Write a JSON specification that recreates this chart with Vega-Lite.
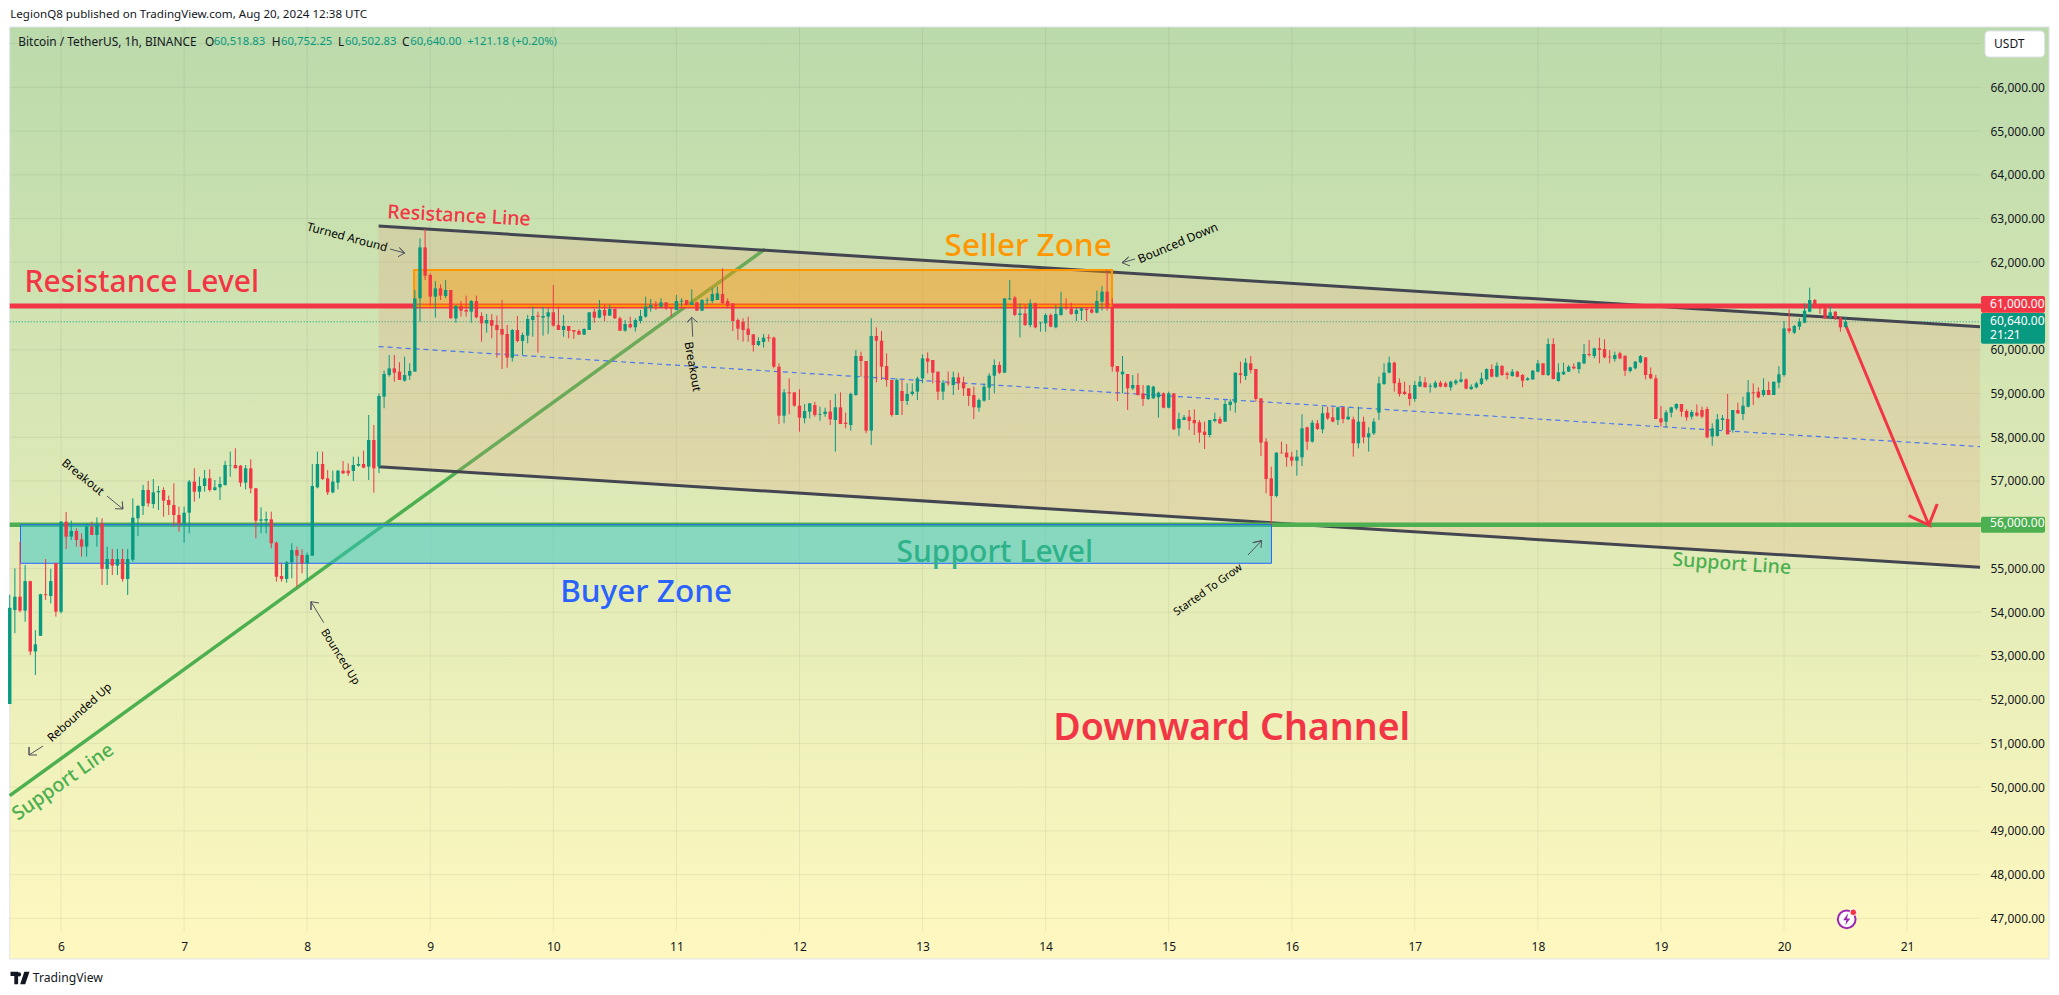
{
  "$schema": "https://vega.github.io/schema/vega-lite/v6.json",
  "width": 2059,
  "height": 995,
  "padding": 0,
  "autosize": {"type": "none"},
  "background": "#ffffff",
  "config": {"view": {"stroke": null}, "text": {"font": "Noto Sans"}},
  "datasets": {
    "candles": [
      {"t":134,"o":51900,"h":54400,"l":51900,"c":54100},{"t":135,"o":54050,"h":55000,"l":53520,"c":54355},{"t":136,"o":54355,"h":55610,"l":54000,"c":54035},{"t":137,"o":54035,"h":55080,"l":53780,"c":54710},{"t":138,"o":54710,"h":54720,"l":53020,"c":53100},{"t":139,"o":53100,"h":53590,"l":52565,"c":53265},{"t":140,"o":53460,"h":54420,"l":53460,"c":54410},{"t":141,"o":54410,"h":55215,"l":54280,"c":54390},{"t":142,"o":54370,"h":54990,"l":54200,"c":54710},{"t":143,"o":55120,"h":55130,"l":53900,"c":54012},
      {"t":144,"o":54012,"h":56080,"l":53974,"c":56070},{"t":145,"o":56070,"h":56291,"l":55445,"c":55727},{"t":146,"o":55730,"h":56093,"l":55651,"c":55856},{"t":147,"o":55856,"h":55917,"l":55498,"c":55650},{"t":148,"o":55665,"h":55803,"l":55270,"c":55500},{"t":149,"o":55500,"h":56032,"l":55270,"c":55955},{"t":150,"o":55955,"h":56070,"l":55765,"c":55765},{"t":151,"o":55765,"h":56169,"l":55498,"c":55990},{"t":152,"o":56030,"h":56146,"l":54622,"c":54990},{"t":153,"o":54990,"h":55498,"l":54622,"c":55216},
      {"t":154,"o":55216,"h":55445,"l":54850,"c":55065},{"t":155,"o":55065,"h":55445,"l":54850,"c":55216},{"t":156,"o":55216,"h":55445,"l":54698,"c":54760},{"t":157,"o":54760,"h":55445,"l":54393,"c":55216},{"t":158,"o":55200,"h":56603,"l":55155,"c":56160},{"t":159,"o":56146,"h":56451,"l":55742,"c":56428},{"t":160,"o":56428,"h":56908,"l":56222,"c":56794},{"t":161,"o":56794,"h":57000,"l":56413,"c":56488},{"t":162,"o":56474,"h":57045,"l":56375,"c":56740},{"t":163,"o":56740,"h":56885,"l":56336,"c":56771},
      {"t":164,"o":56794,"h":56855,"l":56184,"c":56550},{"t":165,"o":56565,"h":56664,"l":56222,"c":56450},{"t":166,"o":56450,"h":56946,"l":55955,"c":56222},{"t":167,"o":56222,"h":56413,"l":55841,"c":56030},{"t":168,"o":56030,"h":56413,"l":55590,"c":56275},{"t":169,"o":56275,"h":57022,"l":55803,"c":56985},{"t":170,"o":56985,"h":57289,"l":56527,"c":56755},{"t":171,"o":56755,"h":57098,"l":56603,"c":56885},{"t":172,"o":56885,"h":57251,"l":56755,"c":57060},{"t":173,"o":57060,"h":57266,"l":56755,"c":56794},
      {"t":174,"o":56794,"h":57022,"l":56778,"c":56855},{"t":175,"o":56855,"h":57098,"l":56565,"c":56930},{"t":176,"o":56908,"h":57457,"l":56893,"c":57365},{"t":177,"o":57355,"h":57670,"l":57098,"c":57365},{"t":178,"o":57365,"h":57746,"l":57289,"c":57290},{"t":179,"o":57350,"h":57365,"l":56870,"c":56962},{"t":180,"o":56962,"h":57365,"l":56809,"c":57290},{"t":181,"o":57290,"h":57495,"l":56717,"c":56832},{"t":182,"o":56832,"h":56832,"l":55689,"c":56093},{"t":183,"o":56093,"h":56397,"l":55803,"c":56123},
      {"t":184,"o":56093,"h":56298,"l":55803,"c":56130},{"t":185,"o":56123,"h":56298,"l":55460,"c":55575},{"t":186,"o":55590,"h":55613,"l":54698,"c":54812},{"t":187,"o":54827,"h":55132,"l":54698,"c":54760},{"t":188,"o":54760,"h":55170,"l":54675,"c":55140},{"t":189,"o":55140,"h":55575,"l":54774,"c":55420},{"t":190,"o":55420,"h":55498,"l":54584,"c":55292},{"t":191,"o":55308,"h":55437,"l":54889,"c":55117},{"t":192,"o":55117,"h":55361,"l":54736,"c":55308},{"t":193,"o":55292,"h":57388,"l":55292,"c":56885},
      {"t":194,"o":56855,"h":57670,"l":56832,"c":57388},{"t":195,"o":57388,"h":57670,"l":57022,"c":57045},{"t":196,"o":57060,"h":57251,"l":56679,"c":56740},{"t":197,"o":56740,"h":57235,"l":56717,"c":56985},{"t":198,"o":56962,"h":57251,"l":56809,"c":57235},{"t":199,"o":57235,"h":57457,"l":57159,"c":57175},{"t":200,"o":57235,"h":57403,"l":57114,"c":57175},{"t":201,"o":57228,"h":57556,"l":57000,"c":57365},{"t":202,"o":57350,"h":57556,"l":57327,"c":57388},{"t":203,"o":57388,"h":57693,"l":57289,"c":57304},
      {"t":204,"o":57327,"h":58508,"l":57022,"c":57937},{"t":205,"o":57937,"h":58280,"l":56733,"c":57289},{"t":206,"o":57330,"h":59000,"l":57180,"c":58943},{"t":207,"o":58928,"h":59522,"l":58661,"c":59446},{"t":208,"o":59423,"h":59880,"l":59385,"c":59575},{"t":209,"o":59575,"h":59880,"l":59271,"c":59476},{"t":210,"o":59500,"h":59713,"l":59309,"c":59309},{"t":211,"o":59293,"h":59842,"l":59271,"c":59423},{"t":212,"o":59408,"h":59690,"l":59309,"c":59515},{"t":213,"o":59500,"h":61366,"l":59500,"c":61176},
      {"t":214,"o":61176,"h":62547,"l":60642,"c":62341},{"t":215,"o":62341,"h":62760,"l":61595,"c":61694},{"t":216,"o":61709,"h":61747,"l":61000,"c":61214},{"t":217,"o":61214,"h":61572,"l":60734,"c":61404},{"t":218,"o":61404,"h":61496,"l":61137,"c":61237},{"t":219,"o":61229,"h":61595,"l":61176,"c":61366},{"t":220,"o":61366,"h":61366,"l":60718,"c":60718},{"t":221,"o":60718,"h":61023,"l":60619,"c":61000},{"t":222,"o":61000,"h":61115,"l":60757,"c":60894},{"t":223,"o":60909,"h":61237,"l":60757,"c":60871},
      {"t":224,"o":60871,"h":61137,"l":60619,"c":61115},{"t":225,"o":61115,"h":61237,"l":60718,"c":60741},{"t":226,"o":60772,"h":60856,"l":60185,"c":60604},{"t":227,"o":60604,"h":60817,"l":60391,"c":60680},{"t":228,"o":60680,"h":60817,"l":60261,"c":60551},{"t":229,"o":60566,"h":60779,"l":59819,"c":60452},{"t":230,"o":60475,"h":61137,"l":59560,"c":60345},{"t":231,"o":60360,"h":60566,"l":59591,"c":59819},{"t":232,"o":59819,"h":60475,"l":59728,"c":60452},{"t":233,"o":60452,"h":60772,"l":60170,"c":60200},
      {"t":234,"o":60200,"h":60391,"l":59880,"c":60337},{"t":235,"o":60322,"h":60795,"l":60147,"c":60703},{"t":236,"o":60680,"h":60985,"l":60299,"c":60772},{"t":237,"o":60780,"h":60871,"l":59934,"c":60757},{"t":238,"o":60734,"h":60985,"l":60322,"c":60772},{"t":239,"o":60757,"h":60947,"l":60360,"c":60856},{"t":240,"o":60856,"h":61480,"l":60528,"c":60551},{"t":241,"o":60566,"h":60985,"l":60452,"c":60452},{"t":242,"o":60452,"h":60795,"l":60299,"c":60543},{"t":243,"o":60543,"h":60543,"l":60261,"c":60429},
      {"t":244,"o":60452,"h":60452,"l":60246,"c":60414},{"t":245,"o":60429,"h":60467,"l":60337,"c":60345},{"t":246,"o":60345,"h":60490,"l":60337,"c":60475},{"t":247,"o":60452,"h":60856,"l":60452,"c":60856},{"t":248,"o":60871,"h":60932,"l":60619,"c":60734},{"t":249,"o":60734,"h":61137,"l":60718,"c":60909},{"t":250,"o":60909,"h":61023,"l":60657,"c":60780},{"t":251,"o":60780,"h":61023,"l":60772,"c":60932},{"t":252,"o":60932,"h":60947,"l":60703,"c":60718},{"t":253,"o":60718,"h":60757,"l":60429,"c":60436},
      {"t":254,"o":60436,"h":60680,"l":60414,"c":60589},{"t":255,"o":60589,"h":60757,"l":60490,"c":60513},{"t":256,"o":60513,"h":60718,"l":60414,"c":60680},{"t":257,"o":60657,"h":60909,"l":60604,"c":60772},{"t":258,"o":60757,"h":61214,"l":60734,"c":60985},{"t":259,"o":60963,"h":61160,"l":60871,"c":61023},{"t":260,"o":61023,"h":61115,"l":60909,"c":61000},{"t":261,"o":60985,"h":61176,"l":60962,"c":61084},{"t":262,"o":61084,"h":61084,"l":60909,"c":60947},{"t":263,"o":60947,"h":60947,"l":60757,"c":60932},
      {"t":264,"o":60909,"h":61252,"l":60909,"c":61115},{"t":265,"o":61100,"h":61176,"l":60985,"c":61122},{"t":266,"o":61137,"h":61137,"l":61008,"c":61023},{"t":267,"o":61023,"h":61381,"l":61023,"c":61084},{"t":268,"o":61084,"h":61099,"l":60886,"c":60894},{"t":269,"o":60894,"h":61160,"l":60886,"c":61137},{"t":270,"o":61115,"h":61191,"l":61023,"c":61130},{"t":271,"o":61114,"h":61404,"l":61061,"c":61274},{"t":272,"o":61137,"h":61442,"l":61137,"c":61290},{"t":273,"o":61274,"h":61861,"l":61061,"c":61060},
      {"t":274,"o":61114,"h":61175,"l":60947,"c":61000},{"t":275,"o":61060,"h":61061,"l":60429,"c":60657},{"t":276,"o":60680,"h":60718,"l":60223,"c":60482},{"t":277,"o":60642,"h":60718,"l":60185,"c":60451},{"t":278,"o":60482,"h":60756,"l":60185,"c":60337},{"t":279,"o":60352,"h":60352,"l":59956,"c":60108},{"t":280,"o":60108,"h":60284,"l":60086,"c":60200},{"t":281,"o":60177,"h":60360,"l":60048,"c":60276},{"t":282,"o":60284,"h":60352,"l":60185,"c":60261},{"t":283,"o":60276,"h":60299,"l":59575,"c":59613},
      {"t":284,"o":59613,"h":59689,"l":58303,"c":58493},{"t":285,"o":58493,"h":59103,"l":58318,"c":59026},{"t":286,"o":59026,"h":59346,"l":58524,"c":59003},{"t":287,"o":59026,"h":59026,"l":58699,"c":58722},{"t":288,"o":58722,"h":59095,"l":58127,"c":58447},{"t":289,"o":58432,"h":58760,"l":58318,"c":58600},{"t":290,"o":58585,"h":58775,"l":58432,"c":58775},{"t":291,"o":58737,"h":58813,"l":58470,"c":58508},{"t":292,"o":58515,"h":58699,"l":58379,"c":58531},{"t":293,"o":58531,"h":58676,"l":58470,"c":58585},
      {"t":294,"o":58585,"h":58851,"l":58280,"c":58409},{"t":295,"o":58394,"h":58988,"l":57670,"c":58684},{"t":296,"o":58684,"h":59026,"l":58303,"c":58303},{"t":297,"o":58333,"h":58562,"l":58203,"c":58303},{"t":298,"o":58280,"h":59019,"l":58150,"c":58989},{"t":299,"o":58966,"h":59994,"l":58950,"c":59857},{"t":300,"o":59857,"h":59956,"l":59385,"c":59743},{"t":301,"o":59743,"h":59743,"l":58089,"c":58150},{"t":302,"o":58150,"h":60718,"l":57822,"c":60314},{"t":303,"o":60314,"h":60512,"l":59255,"c":60207},
      {"t":304,"o":60207,"h":60429,"l":59308,"c":59613},{"t":305,"o":59628,"h":59918,"l":59156,"c":59308},{"t":306,"o":59308,"h":59308,"l":58470,"c":58508},{"t":307,"o":58508,"h":59346,"l":58508,"c":59308},{"t":308,"o":59057,"h":59308,"l":58508,"c":58828},{"t":309,"o":58828,"h":59232,"l":58737,"c":58988},{"t":310,"o":58988,"h":59232,"l":58950,"c":59042},{"t":311,"o":59042,"h":59385,"l":58851,"c":59346},{"t":312,"o":59346,"h":59895,"l":59232,"c":59803},{"t":313,"o":59803,"h":59941,"l":59461,"c":59727},
      {"t":314,"o":59765,"h":59765,"l":59232,"c":59476},{"t":315,"o":59499,"h":59499,"l":58851,"c":59042},{"t":316,"o":59042,"h":59308,"l":58851,"c":59247},{"t":317,"o":59247,"h":59499,"l":59179,"c":59232},{"t":318,"o":59194,"h":59499,"l":58966,"c":59369},{"t":319,"o":59369,"h":59476,"l":59080,"c":59232},{"t":320,"o":59255,"h":59385,"l":58943,"c":59118},{"t":321,"o":59118,"h":59118,"l":58714,"c":58943},{"t":322,"o":58966,"h":59156,"l":58417,"c":58684},{"t":323,"o":58676,"h":58889,"l":58584,"c":58851},
      {"t":324,"o":58836,"h":59232,"l":58813,"c":59156},{"t":325,"o":59133,"h":59461,"l":58851,"c":59407},{"t":326,"o":59407,"h":59781,"l":59004,"c":59651},{"t":327,"o":59651,"h":59727,"l":59446,"c":59476},{"t":328,"o":59476,"h":61175,"l":59476,"c":61175},{"t":329,"o":61152,"h":61594,"l":61137,"c":61175},{"t":330,"o":61191,"h":61229,"l":60771,"c":60794},{"t":331,"o":60794,"h":61061,"l":60284,"c":60832},{"t":332,"o":60832,"h":61023,"l":60543,"c":60566},{"t":333,"o":60566,"h":61152,"l":60512,"c":61061},
      {"t":334,"o":61061,"h":61076,"l":60490,"c":60512},{"t":335,"o":60604,"h":60642,"l":60413,"c":60619},{"t":336,"o":60604,"h":60832,"l":60413,"c":60794},{"t":337,"o":60794,"h":60832,"l":60512,"c":60528},{"t":338,"o":60512,"h":61023,"l":60490,"c":60817},{"t":339,"o":60794,"h":61328,"l":60779,"c":60985},{"t":340,"o":60985,"h":61175,"l":60909,"c":60947},{"t":341,"o":60947,"h":61076,"l":60794,"c":60817},{"t":342,"o":60817,"h":60970,"l":60657,"c":60909},{"t":343,"o":60894,"h":60970,"l":60680,"c":60947},
      {"t":344,"o":60932,"h":60970,"l":60657,"c":60909},{"t":345,"o":60924,"h":60985,"l":60832,"c":60848},{"t":346,"o":60848,"h":61350,"l":60832,"c":61114},{"t":347,"o":61099,"h":61457,"l":60893,"c":61328},{"t":348,"o":61328,"h":61823,"l":60893,"c":60970},{"t":349,"o":60970,"h":61175,"l":59499,"c":59613},{"t":350,"o":59628,"h":59628,"l":58828,"c":59499},{"t":351,"o":59438,"h":59857,"l":59004,"c":59499},{"t":352,"o":59446,"h":59446,"l":58623,"c":59118},{"t":353,"o":59118,"h":59423,"l":59080,"c":59194},
      {"t":354,"o":59194,"h":59461,"l":58950,"c":58966},{"t":355,"o":59003,"h":59194,"l":58714,"c":58874},{"t":356,"o":58874,"h":59194,"l":58851,"c":59179},{"t":357,"o":58889,"h":59179,"l":58874,"c":59156},{"t":358,"o":58912,"h":59042,"l":58447,"c":59019},{"t":359,"o":59003,"h":59026,"l":58661,"c":58676},{"t":360,"o":58676,"h":59042,"l":58661,"c":59003},{"t":361,"o":59003,"h":59004,"l":58165,"c":58181},{"t":362,"o":58204,"h":58562,"l":58028,"c":58417},{"t":363,"o":58394,"h":58508,"l":58394,"c":58455},
      {"t":364,"o":58470,"h":58623,"l":58165,"c":58371},{"t":365,"o":58394,"h":58638,"l":58051,"c":58318},{"t":366,"o":58341,"h":58394,"l":57876,"c":58105},{"t":367,"o":58128,"h":58356,"l":57731,"c":58051},{"t":368,"o":58051,"h":58394,"l":57998,"c":58394},{"t":369,"o":58371,"h":58562,"l":58341,"c":58417},{"t":370,"o":58417,"h":58470,"l":58303,"c":58318},{"t":371,"o":58356,"h":58851,"l":58356,"c":58760},{"t":372,"o":58737,"h":58866,"l":58607,"c":58813},{"t":373,"o":58790,"h":59476,"l":58562,"c":59476},
      {"t":374,"o":59461,"h":59727,"l":59232,"c":59423},{"t":375,"o":59400,"h":59804,"l":59308,"c":59705},{"t":376,"o":59689,"h":59857,"l":59461,"c":59537},{"t":377,"o":59560,"h":59560,"l":58813,"c":58874},{"t":378,"o":58889,"h":58889,"l":57571,"c":57876},{"t":379,"o":57899,"h":57975,"l":56718,"c":57045},{"t":380,"o":57060,"h":57327,"l":56000,"c":56656},{"t":381,"o":56656,"h":57655,"l":56626,"c":57647},{"t":382,"o":57647,"h":57899,"l":57632,"c":57632},{"t":383,"o":57647,"h":57845,"l":57327,"c":57541},
      {"t":384,"o":57556,"h":57670,"l":57342,"c":57464},{"t":385,"o":57464,"h":57708,"l":57121,"c":57556},{"t":386,"o":57541,"h":58524,"l":57342,"c":58204},{"t":387,"o":58226,"h":58242,"l":57708,"c":57899},{"t":388,"o":57899,"h":58394,"l":57876,"c":58333},{"t":389,"o":58318,"h":58394,"l":58165,"c":58188},{"t":390,"o":58181,"h":58699,"l":58089,"c":58547},{"t":391,"o":58562,"h":58699,"l":58394,"c":58432},{"t":392,"o":58455,"h":58684,"l":58341,"c":58356},{"t":393,"o":58394,"h":58699,"l":58280,"c":58684},
      {"t":394,"o":58684,"h":58699,"l":58318,"c":58417},{"t":395,"o":58409,"h":58684,"l":58394,"c":58470},{"t":396,"o":58409,"h":58470,"l":57556,"c":57860},{"t":397,"o":57860,"h":58699,"l":57746,"c":58356},{"t":398,"o":58356,"h":58470,"l":57861,"c":57998},{"t":399,"o":57998,"h":58226,"l":57670,"c":58089},{"t":400,"o":58089,"h":58432,"l":58051,"c":58356},{"t":401,"o":58562,"h":59385,"l":58394,"c":59232},{"t":402,"o":59217,"h":59689,"l":59194,"c":59476},{"t":403,"o":59476,"h":59842,"l":59461,"c":59705},
      {"t":404,"o":59705,"h":59727,"l":59042,"c":59232},{"t":405,"o":59247,"h":59346,"l":58927,"c":58988},{"t":406,"o":59042,"h":59270,"l":58965,"c":58988},{"t":407,"o":59003,"h":59194,"l":58721,"c":58874},{"t":408,"o":58874,"h":59285,"l":58813,"c":59194},{"t":409,"o":59156,"h":59400,"l":59156,"c":59270},{"t":410,"o":59255,"h":59369,"l":59141,"c":59141},{"t":411,"o":59156,"h":59232,"l":59019,"c":59179},{"t":412,"o":59141,"h":59293,"l":59118,"c":59247},{"t":413,"o":59247,"h":59293,"l":59141,"c":59156},
      {"t":414,"o":59232,"h":59270,"l":59141,"c":59156},{"t":415,"o":59141,"h":59293,"l":59064,"c":59270},{"t":416,"o":59232,"h":59323,"l":59194,"c":59293},{"t":417,"o":59270,"h":59491,"l":59247,"c":59323},{"t":418,"o":59323,"h":59346,"l":59095,"c":59110},{"t":419,"o":59103,"h":59209,"l":59080,"c":59156},{"t":420,"o":59141,"h":59270,"l":59118,"c":59232},{"t":421,"o":59217,"h":59476,"l":59194,"c":59346},{"t":422,"o":59323,"h":59575,"l":59293,"c":59560},{"t":423,"o":59560,"h":59666,"l":59369,"c":59384},
      {"t":424,"o":59384,"h":59712,"l":59369,"c":59636},{"t":425,"o":59628,"h":59651,"l":59400,"c":59423},{"t":426,"o":59461,"h":59499,"l":59323,"c":59423},{"t":427,"o":59400,"h":59560,"l":59384,"c":59499},{"t":428,"o":59499,"h":59522,"l":59369,"c":59384},{"t":429,"o":59423,"h":59445,"l":59141,"c":59293},{"t":430,"o":59308,"h":59369,"l":59293,"c":59346},{"t":431,"o":59323,"h":59537,"l":59308,"c":59522},{"t":432,"o":59499,"h":59765,"l":59483,"c":59689},{"t":433,"o":59689,"h":59689,"l":59415,"c":59423},
      {"t":434,"o":59423,"h":60261,"l":59400,"c":60131},{"t":435,"o":60131,"h":60261,"l":59323,"c":59331},{"t":436,"o":59285,"h":59689,"l":59270,"c":59483},{"t":437,"o":59438,"h":59704,"l":59423,"c":59499},{"t":438,"o":59499,"h":59651,"l":59491,"c":59613},{"t":439,"o":59613,"h":59689,"l":59552,"c":59575},{"t":440,"o":59560,"h":59727,"l":59461,"c":59712},{"t":441,"o":59689,"h":60131,"l":59674,"c":59903},{"t":442,"o":59903,"h":60223,"l":59842,"c":59880},{"t":443,"o":59857,"h":60047,"l":59803,"c":60032},
      {"t":444,"o":60032,"h":60276,"l":59689,"c":59994},{"t":445,"o":60017,"h":60238,"l":59803,"c":59826},{"t":446,"o":59842,"h":59994,"l":59689,"c":59826},{"t":447,"o":59788,"h":59956,"l":59727,"c":59880},{"t":448,"o":59918,"h":59956,"l":59781,"c":59803},{"t":449,"o":59864,"h":59864,"l":59400,"c":59522},{"t":450,"o":59514,"h":59613,"l":59483,"c":59598},{"t":451,"o":59575,"h":59742,"l":59552,"c":59727},{"t":452,"o":59712,"h":59880,"l":59689,"c":59857},{"t":453,"o":59826,"h":59826,"l":59323,"c":59423},
      {"t":454,"o":59446,"h":59598,"l":59323,"c":59347},{"t":455,"o":59347,"h":59423,"l":58417,"c":58417},{"t":456,"o":58432,"h":58714,"l":58241,"c":58340},{"t":457,"o":58356,"h":58622,"l":58226,"c":58569},{"t":458,"o":58562,"h":58699,"l":58455,"c":58683},{"t":459,"o":58661,"h":58775,"l":58622,"c":58760},{"t":460,"o":58760,"h":58760,"l":58470,"c":58584},{"t":461,"o":58600,"h":58638,"l":58379,"c":58455},{"t":462,"o":58470,"h":58622,"l":58409,"c":58577},{"t":463,"o":58562,"h":58752,"l":58470,"c":58493},
      {"t":464,"o":58622,"h":58699,"l":58432,"c":58470},{"t":465,"o":58645,"h":58699,"l":57975,"c":57998},{"t":466,"o":58013,"h":58318,"l":57807,"c":58203},{"t":467,"o":58028,"h":58531,"l":58013,"c":58409},{"t":468,"o":58394,"h":58508,"l":58165,"c":58432},{"t":469,"o":58417,"h":58988,"l":58066,"c":58066},{"t":470,"o":58165,"h":58622,"l":58104,"c":58622},{"t":471,"o":58622,"h":58790,"l":58531,"c":58546},{"t":472,"o":58531,"h":58927,"l":58394,"c":58721},{"t":473,"o":58698,"h":59308,"l":58683,"c":59026},
      {"t":474,"o":59026,"h":59232,"l":58737,"c":59003},{"t":475,"o":59042,"h":59141,"l":58889,"c":58912},{"t":476,"o":58965,"h":59346,"l":58927,"c":59080},{"t":477,"o":59080,"h":59270,"l":58965,"c":58965},{"t":478,"o":58965,"h":59270,"l":58965,"c":59270},{"t":479,"o":59247,"h":59628,"l":59118,"c":59438},{"t":480,"o":59423,"h":60657,"l":59384,"c":60489},{"t":481,"o":60489,"h":60924,"l":60375,"c":60428},{"t":482,"o":60390,"h":60566,"l":60360,"c":60543},{"t":483,"o":60528,"h":60718,"l":60451,"c":60642},
      {"t":484,"o":60619,"h":61061,"l":60604,"c":60893},{"t":485,"o":60870,"h":61419,"l":60855,"c":61137},{"t":486,"o":61137,"h":61160,"l":60946,"c":60969},{"t":487,"o":60985,"h":61023,"l":60817,"c":60947},{"t":488,"o":60947,"h":60985,"l":60703,"c":60718},{"t":489,"o":60733,"h":61000,"l":60695,"c":60855},{"t":490,"o":60870,"h":60885,"l":60680,"c":60718},{"t":491,"o":60733,"h":60756,"l":60413,"c":60512},{"t":492,"o":60518.83,"h":60752.25,"l":60502.83,"c":60640}
    ],
    "channel": [
      {"t":205.93,"up":62829,"mid":60072,"lo":57326},
      {"t":518.22,"up":60527,"mid":57784,"lo":55026}
    ],
    "arrows": [
      {"id":"turned","o":1,"t":208.16,"p":62303},{"id":"turned","o":2,"t":211.02,"p":62212},{"id":"turned","o":3,"t":209.97,"p":62333},{"id":"turned","o":4,"t":211.02,"p":62212},{"id":"turned","o":5,"t":209.71,"p":62127},
      {"id":"down","o":1,"t":353.43,"p":62075},{"id":"down","o":2,"t":350.9,"p":61990},{"id":"down","o":3,"t":352.19,"p":62120},{"id":"down","o":4,"t":350.9,"p":61990},{"id":"down","o":5,"t":352.46,"p":61915},
      {"id":"breakL","o":1,"t":152.97,"p":56656},{"id":"breakL","o":2,"t":156.05,"p":56359},{"id":"breakL","o":3,"t":155.95,"p":56526},{"id":"breakL","o":4,"t":156.05,"p":56359},{"id":"breakL","o":5,"t":154.53,"p":56366},
      {"id":"up","o":1,"t":195.23,"p":53760},{"id":"up","o":2,"t":192.75,"p":54240},{"id":"up","o":3,"t":192.75,"p":54050},{"id":"up","o":4,"t":192.75,"p":54240},{"id":"up","o":5,"t":194.31,"p":54210},
      {"id":"rebound","o":1,"t":140.49,"p":50941},{"id":"rebound","o":2,"t":137.76,"p":50735},{"id":"rebound","o":3,"t":137.76,"p":50918},{"id":"rebound","o":4,"t":137.76,"p":50735},{"id":"rebound","o":5,"t":139.32,"p":50735},
      {"id":"breakM","o":1,"t":267.19,"p":60298},{"id":"breakM","o":2,"t":266.99,"p":60742},{"id":"breakM","o":3,"t":266.13,"p":60628},{"id":"breakM","o":4,"t":266.99,"p":60742},{"id":"breakM","o":5,"t":268.08,"p":60628},
      {"id":"grow","o":1,"t":375.47,"p":55308},{"id":"grow","o":2,"t":378.12,"p":55635},{"id":"grow","o":3,"t":376.39,"p":55589},{"id":"grow","o":4,"t":378.12,"p":55635},{"id":"grow","o":5,"t":378.0,"p":55468}
    ]
  },
  "encoding": {
    "x": {
      "field": "t",
      "type": "quantitative",
      "title": null,
      "scale": {"domain": [132.1, 533.62], "nice": false, "zero": false, "padding": 0},
      "axis": {"orient": "bottom", "values": [144,168,192,216,240,264,288,312,336,360,384,408,432,456,480,504], "labelExpr": "datum.value / 24", "domain": false, "ticks": false, "grid": false, "labelPadding": -49, "labelBaseline": "middle", "labelFont": "Noto Sans", "labelFontSize": 12, "labelColor": "#131722", "labelOverlap": false, "labelBound": false, "labelFlush": false, "zindex": 1}
    },
    "y": {
      "field": "p",
      "type": "quantitative",
      "title": null,
      "scale": {"domain": [45248, 67996], "nice": false, "zero": false, "padding": 0},
      "axis": {"orient": "right", "values": [47000,48000,49000,50000,51000,52000,53000,54000,55000,57000,58000,59000,60000,62000,63000,64000,65000,66000], "format": ",.2f", "domain": false, "ticks": false, "grid": false, "labelPadding": -69, "labelAlign": "left", "labelFont": "Noto Sans", "labelFontSize": 12, "labelColor": "#131722", "labelOverlap": false, "labelBound": false, "labelFlush": false, "zindex": 1}
    }
  },
  "layer": [
    {
      "data": {"values": [{"t":134,"t2":531.68,"p":67379,"p2":46071}]},
      "mark": {"type": "rect", "stroke": "#e0e3eb", "strokeWidth": 1, "fill": {"gradient": "linear", "x1": 0, "y1": 0, "x2": 0, "y2": 1, "stops": [{"offset": 0, "color": "#bbdaab"}, {"offset": 1, "color": "#fff8c0"}]}},
      "encoding": {"x2": {"field": "t2"}, "y2": {"field": "p2"}}
    },
    {
      "data": {"values": [{"t":144,"lo":46689,"hi":67379},{"t":168,"lo":46689,"hi":67379},{"t":192,"lo":46689,"hi":67379},{"t":216,"lo":46689,"hi":67379},{"t":240,"lo":46689,"hi":67379},{"t":264,"lo":46689,"hi":67379},{"t":288,"lo":46689,"hi":67379},{"t":312,"lo":46689,"hi":67379},{"t":336,"lo":46689,"hi":67379},{"t":360,"lo":46689,"hi":67379},{"t":384,"lo":46689,"hi":67379},{"t":408,"lo":46689,"hi":67379},{"t":432,"lo":46689,"hi":67379},{"t":456,"lo":46689,"hi":67379},{"t":480,"lo":46689,"hi":67379},{"t":504,"lo":46689,"hi":67379}]},
      "mark": {"type": "rule", "color": "#2a2e39", "opacity": 0.07, "strokeWidth": 1},
      "encoding": {"y": {"field": "lo", "type": "quantitative"}, "y2": {"field": "hi"}}
    },
    {
      "data": {"values": [{"t":134,"t2":518.4,"p":47000},{"t":134,"t2":518.4,"p":48000},{"t":134,"t2":518.4,"p":49000},{"t":134,"t2":518.4,"p":50000},{"t":134,"t2":518.4,"p":51000},{"t":134,"t2":518.4,"p":52000},{"t":134,"t2":518.4,"p":53000},{"t":134,"t2":518.4,"p":54000},{"t":134,"t2":518.4,"p":55000},{"t":134,"t2":518.4,"p":56000},{"t":134,"t2":518.4,"p":57000},{"t":134,"t2":518.4,"p":58000},{"t":134,"t2":518.4,"p":59000},{"t":134,"t2":518.4,"p":60000},{"t":134,"t2":518.4,"p":61000},{"t":134,"t2":518.4,"p":62000},{"t":134,"t2":518.4,"p":63000},{"t":134,"t2":518.4,"p":64000},{"t":134,"t2":518.4,"p":65000},{"t":134,"t2":518.4,"p":66000},{"t":134,"t2":518.4,"p":67000}]},
      "mark": {"type": "rule", "color": "#2a2e39", "opacity": 0.07, "strokeWidth": 1},
      "encoding": {"x2": {"field": "t2"}}
    },
    {
      "data": {"values": [{"t":134,"t2":518.4,"p":60640}]},
      "mark": {"type": "rule", "color": "#089981", "strokeWidth": 1, "strokeDash": [1, 2]},
      "encoding": {"x2": {"field": "t2"}}
    },
    {
      "data": {"values": [{"t":134,"p":49805},{"t":281.23,"p":62297}]},
      "mark": {"type": "line", "color": "#4caf50", "strokeWidth": 3.5}
    },
    {
      "data": {"name": "channel"},
      "mark": {"type": "area", "color": "#ea967c", "opacity": 0.2},
      "encoding": {"y": {"field": "up", "type": "quantitative"}, "y2": {"field": "lo"}}
    },
    {
      "data": {"name": "channel"},
      "mark": {"type": "line", "color": "#434651", "strokeWidth": 3},
      "encoding": {"y": {"field": "up", "type": "quantitative"}}
    },
    {
      "data": {"name": "channel"},
      "mark": {"type": "line", "color": "#434651", "strokeWidth": 3},
      "encoding": {"y": {"field": "lo", "type": "quantitative"}}
    },
    {
      "data": {"name": "channel"},
      "mark": {"type": "line", "color": "#2962ff", "strokeWidth": 1.2, "strokeDash": [5, 4], "opacity": 0.8},
      "encoding": {"y": {"field": "mid", "type": "quantitative"}}
    },
    {
      "data": {"values": [{"t":134,"t2":518.4,"p":61000}]},
      "mark": {"type": "rule", "color": "#f23645", "strokeWidth": 5},
      "encoding": {"x2": {"field": "t2"}}
    },
    {
      "data": {"values": [{"t":134,"t2":518.4,"p":56000}]},
      "mark": {"type": "rule", "color": "#4caf50", "strokeWidth": 4.5},
      "encoding": {"x2": {"field": "t2"}}
    },
    {
      "data": {"values": [{"t":212.84,"t2":348.95,"p":61823,"p2":61000}]},
      "mark": {"type": "rect", "fill": "#ff9800", "fillOpacity": 0.4, "stroke": "#ff9800", "strokeWidth": 2},
      "encoding": {"x2": {"field": "t2"}, "y2": {"field": "p2"}}
    },
    {
      "data": {"values": [{"t":136.1,"t2":380.04,"p":56000,"p2":55118}]},
      "mark": {"type": "rect", "fill": "#2dc5c8", "fillOpacity": 0.5, "stroke": "#2962ff", "strokeWidth": 1},
      "encoding": {"x2": {"field": "t2"}, "y2": {"field": "p2"}}
    },
    {
      "data": {"name": "arrows"},
      "mark": {"type": "line", "color": "#50535e", "strokeWidth": 1},
      "encoding": {"detail": {"field": "id"}, "order": {"field": "o"}}
    },
    {
      "data": {"values": [{"o":1,"t":492,"p":60566},{"o":2,"t":508.24,"p":55993},{"o":3,"t":504.3,"p":56206},{"o":4,"t":508.24,"p":55993},{"o":5,"t":509.87,"p":56474}]},
      "mark": {"type": "line", "color": "#f23645", "strokeWidth": 3},
      "encoding": {"order": {"field": "o"}}
    },
    {
      "data": {"name": "candles"},
      "mark": {"type": "rule", "strokeWidth": 1},
      "encoding": {
        "y": {"field": "l", "type": "quantitative"},
        "y2": {"field": "h"},
        "color": {"condition": {"test": "datum.c >= datum.o", "value": "#089981"}, "value": "#f23645"}
      }
    },
    {
      "data": {"name": "candles"},
      "mark": {"type": "bar", "size": 3.4},
      "encoding": {
        "y": {"field": "o", "type": "quantitative"},
        "y2": {"field": "c"},
        "color": {"condition": {"test": "datum.c >= datum.o", "value": "#089981"}, "value": "#f23645"}
      }
    },
    {
      "data": {"values": [{"label":"Resistance Level","t":136.9,"p":61530}]},
      "mark": {"type": "text", "align": "left", "fontSize": 30, "fontWeight": 500, "color": "#f23645"},
      "encoding": {"text": {"field": "label"}}
    },
    {
      "data": {"values": [{"label":"Resistance Line","t":221.6,"p":63060}]},
      "mark": {"type": "text", "angle": 3, "fontSize": 19.5, "fontWeight": 500, "color": "#f23645"},
      "encoding": {"text": {"field": "label"}}
    },
    {
      "data": {"values": [{"label":"Turned Around","t":199.8,"p":62578}]},
      "mark": {"type": "text", "angle": 15, "fontSize": 11.7, "color": "#000000"},
      "encoding": {"text": {"field": "label"}}
    },
    {
      "data": {"values": [{"label":"Seller Zone","t":332.6,"p":62360}]},
      "mark": {"type": "text", "fontSize": 31.5, "fontWeight": 500, "color": "#ff9800"},
      "encoding": {"text": {"field": "label"}}
    },
    {
      "data": {"values": [{"label":"Bounced Down","t":361.8,"p":62440}]},
      "mark": {"type": "text", "angle": -23, "fontSize": 12, "color": "#000000"},
      "encoding": {"text": {"field": "label"}}
    },
    {
      "data": {"values": [{"label":"Breakout","t":148.3,"p":57091}]},
      "mark": {"type": "text", "angle": 39, "fontSize": 11.7, "color": "#000000"},
      "encoding": {"text": {"field": "label"}}
    },
    {
      "data": {"values": [{"label":"Bounced Up","t":198.4,"p":52976}]},
      "mark": {"type": "text", "angle": 58, "fontSize": 11, "color": "#000000"},
      "encoding": {"text": {"field": "label"}}
    },
    {
      "data": {"values": [{"label":"Rebounded Up","t":147.7,"p":51695}]},
      "mark": {"type": "text", "angle": -42, "fontSize": 11.6, "color": "#000000"},
      "encoding": {"text": {"field": "label"}}
    },
    {
      "data": {"values": [{"label":"Support Line","t":144.4,"p":50118}]},
      "mark": {"type": "text", "angle": -35, "fontSize": 19.5, "fontWeight": 500, "color": "#4caf50"},
      "encoding": {"text": {"field": "label"}}
    },
    {
      "data": {"values": [{"label":"Breakout","t":267.2,"p":59615}]},
      "mark": {"type": "text", "angle": 80, "fontSize": 11.7, "color": "#000000"},
      "encoding": {"text": {"field": "label"}}
    },
    {
      "data": {"values": [{"label":"Started To Grow","t":367.7,"p":54507}]},
      "mark": {"type": "text", "angle": -35.5, "fontSize": 10.8, "color": "#000000"},
      "encoding": {"text": {"field": "label"}}
    },
    {
      "data": {"values": [{"label":"Support Level","t":326.1,"p":55350}]},
      "mark": {"type": "text", "fontSize": 30, "fontWeight": 500, "color": "#2db28a"},
      "encoding": {"text": {"field": "label"}}
    },
    {
      "data": {"values": [{"label":"Buyer Zone","t":258.1,"p":54450}]},
      "mark": {"type": "text", "fontSize": 31.5, "fontWeight": 500, "color": "#2962ff"},
      "encoding": {"text": {"field": "label"}}
    },
    {
      "data": {"values": [{"label":"Support Line","t":469.8,"p":55102}]},
      "mark": {"type": "text", "angle": 4, "fontSize": 19.5, "fontWeight": 500, "color": "#4caf50"},
      "encoding": {"text": {"field": "label"}}
    },
    {
      "data": {"values": [{"label":"Downward Channel","t":372.3,"p":51340}]},
      "mark": {"type": "text", "fontSize": 37.5, "fontWeight": 600, "color": "#f23645"},
      "encoding": {"text": {"field": "label"}}
    },
    {
      "data": {"values": [{"label":"LegionQ8 published on TradingView.com, Aug 20, 2024 12:38 UTC","t":134.1,"p":67653}]},
      "mark": {"type": "text", "align": "left", "fontSize": 11.6, "color": "#131722"},
      "encoding": {"text": {"field": "label"}}
    },
    {
      "data": {"values": [{"label":"Bitcoin / TetherUS, 1h, BINANCE","t":135.67,"p":67043},{"label":"O","t":172.1,"p":67043},{"label":"H","t":185.1,"p":67043},{"label":"L","t":198,"p":67043},{"label":"C","t":210.5,"p":67043}]},
      "mark": {"type": "text", "align": "left", "fontSize": 11.9, "color": "#131722"},
      "encoding": {"text": {"field": "label"}}
    },
    {
      "data": {"values": [{"label":"60,518.83","t":173.8,"p":67043},{"label":"60,752.25","t":186.9,"p":67043},{"label":"60,502.83","t":199.4,"p":67043},{"label":"60,640.00","t":212.1,"p":67043},{"label":"+121.18 (+0.20%)","t":223.2,"p":67043}]},
      "mark": {"type": "text", "align": "left", "fontSize": 11.3, "color": "#089981"},
      "encoding": {"text": {"field": "label"}}
    },
    {
      "data": {"values": [{"label":"TradingView","t":138.5,"p":45637}]},
      "mark": {"type": "text", "align": "left", "fontSize": 12.2, "color": "#131722"},
      "encoding": {"text": {"field": "label"}}
    },
    {
      "data": {"values": [{"t":136,"p":45637}]},
      "mark": {"type": "point", "filled": true, "opacity": 1, "size": 361, "color": "#131722", "shape": "M-1,-0.65 H-0.2 V0.65 H-0.6 V-0.2 H-1 Z M0.12,-0.4 A0.22,0.22 0 1 1 0.1199,-0.401 Z M0.45,-0.65 H1 L0.55,0.65 H0.02 Z"}
    },
    {
      "data": {"values": [{"t":518.4,"t2":530.9,"p":61229,"p2":60847}]},
      "mark": {"type": "rect", "fill": "#f23645", "cornerRadius": 2},
      "encoding": {"x2": {"field": "t2"}, "y2": {"field": "p2"}}
    },
    {
      "data": {"values": [{"t":518.4,"t2":530.9,"p":60840,"p2":60139}]},
      "mark": {"type": "rect", "fill": "#089981", "cornerRadius": 2},
      "encoding": {"x2": {"field": "t2"}, "y2": {"field": "p2"}}
    },
    {
      "data": {"values": [{"t":518.4,"t2":530.9,"p":56183,"p2":55817}]},
      "mark": {"type": "rect", "fill": "#4caf50", "cornerRadius": 2},
      "encoding": {"x2": {"field": "t2"}, "y2": {"field": "p2"}}
    },
    {
      "data": {"values": [{"label":"61,000.00","t":520.17,"p":61046},{"label":"60,640.00","t":520.17,"p":60664},{"label":"21:21","t":520.17,"p":60338},{"label":"56,000.00","t":520.17,"p":56032}]},
      "mark": {"type": "text", "align": "left", "fontSize": 12, "color": "#ffffff"},
      "encoding": {"text": {"field": "label"}}
    },
    {
      "data": {"values": [{"t":519.2,"t2":530.8,"p":67287,"p2":66693}]},
      "mark": {"type": "rect", "fill": "#ffffff", "stroke": "#e0e3eb", "cornerRadius": 4},
      "encoding": {"x2": {"field": "t2"}, "y2": {"field": "p2"}}
    },
    {
      "data": {"values": [{"label":"USDT","t":520.95,"p":67001}]},
      "mark": {"type": "text", "align": "left", "fontSize": 12, "color": "#131722"},
      "encoding": {"text": {"field": "label"}}
    },
    {
      "data": {"values": [{"t":492.22,"p":46979}]},
      "mark": {"type": "point", "filled": true, "opacity": 1, "shape": "circle", "size": 314, "fill": "#ffffff", "stroke": "#9c27b0", "strokeWidth": 2}
    },
    {
      "data": {"values": [{"t":492.22,"p":46979}]},
      "mark": {"type": "point", "filled": true, "opacity": 1, "size": 144, "color": "#9c27b0", "shape": "M0.25,-1 L-0.6,0.15 H-0.05 L-0.25,1 L0.6,-0.15 H0.05 Z"}
    },
    {
      "data": {"values": [{"t":493.5,"p":47139}]},
      "mark": {"type": "point", "filled": true, "opacity": 1, "shape": "circle", "size": 45, "fill": "#f23645", "stroke": "#ffffff", "strokeWidth": 1}
    }
  ]
}
